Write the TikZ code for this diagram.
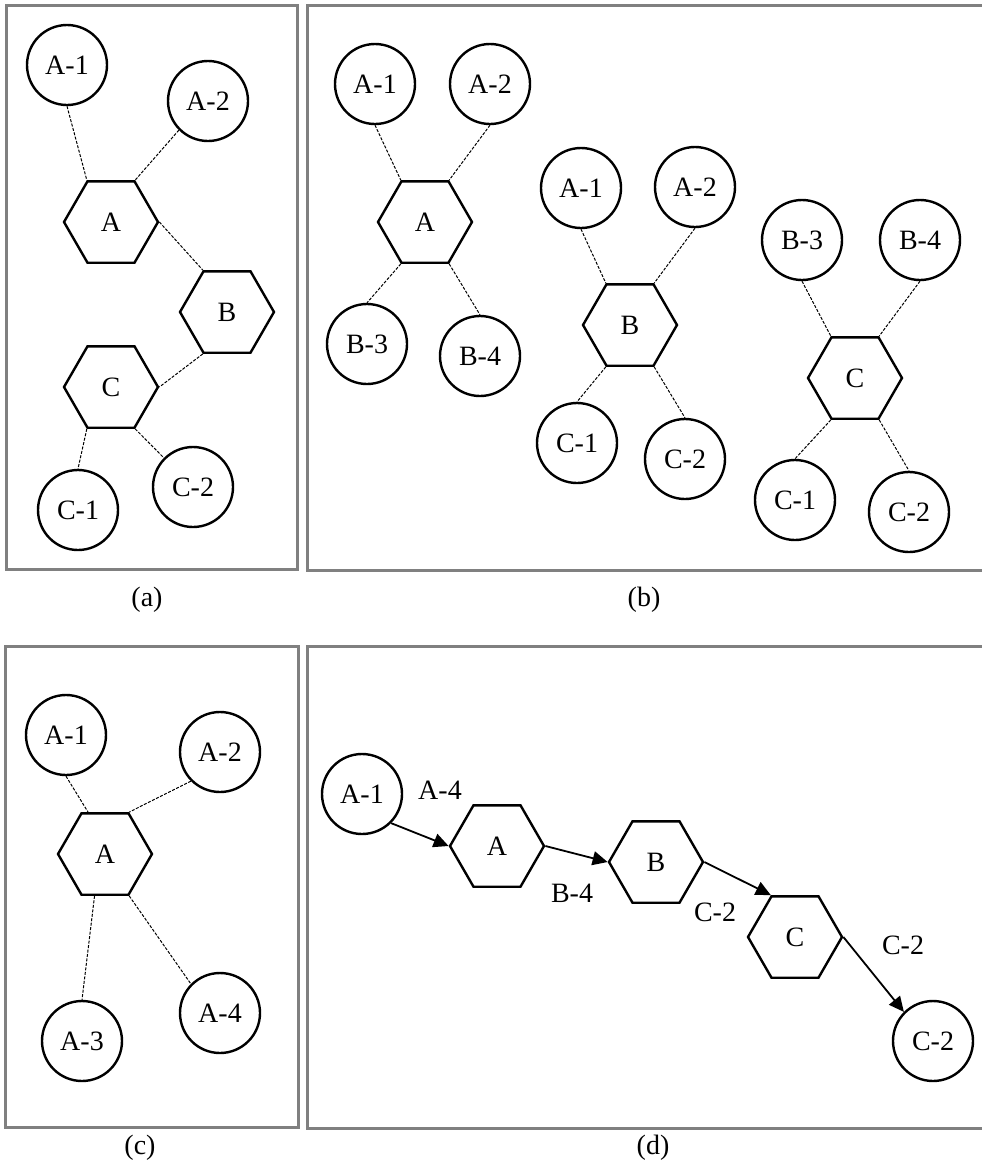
\documentclass[tikz,border=0pt]{standalone}
\usepackage{fontspec}
\setmainfont{Liberation Serif}
\usepackage{tikz}
\usetikzlibrary{shapes.geometric,arrows.meta}

\begin{document}
\begin{tikzpicture}[x=1pt,y=-1pt,
  font=\fontsize{28}{33}\selectfont,
  hexnode/.style={draw,line width=2.4pt,regular polygon,regular polygon sides=6,minimum size=94pt,inner sep=0pt},
  circnode/.style={draw,circle,line width=2.4pt,minimum size=80pt,inner sep=0pt},
  link/.style={dash pattern=on 3pt off 1.5pt,line width=1pt},
  flow/.style={line width=1.8pt,-{Triangle[length=15pt,width=14pt]}},
  panel/.style={draw=gray,line width=3pt}]
\useasboundingbox (0,0) rectangle (982,1165);

% Panel frames
\draw[panel] (6,5) rectangle (297,569);
\draw[panel] (992,5) -- (307,5) -- (307,570) -- (992,570);
\draw[panel] (5,646) rectangle (298,1127);
\draw[panel] (992,646) -- (307,646) -- (307,1128) -- (992,1128);

% (a) chain A - B - C
\node[circnode] (a1) at (67,65) {A-1};
\node[circnode] (a2) at (208,101) {A-2};
\node[hexnode] (ahA) at (111,222) {A};
\node[hexnode] (ahB) at (227,312) {B};
\node[hexnode] (ahC) at (111,387) {C};
\node[circnode] (ac1) at (78,510) {C-1};
\node[circnode] (ac2) at (193,487) {C-2};
\draw[link] (a1.south) -- (ahA.120);
\draw[link] (a2.south west) -- (ahA.60);
\draw[link] (ahA.0) -- (ahB.120);
\draw[link] (ahB.240) -- (ahC.0);
\draw[link] (ahC.240) -- (ac1.north);
\draw[link] (ahC.300) -- (ac2.north west);
\node (capa) at (147,600) {(a)};

% (b) three separate hubs
\node[circnode] (b1) at (375,84) {A-1};
\node[circnode] (b2) at (490,84) {A-2};
\node[hexnode] (bhA) at (425,222) {A};
\node[circnode] (b3) at (367,344) {B-3};
\node[circnode] (b4) at (480,356) {B-4};
\draw[link] (b1.south) -- (bhA.120);
\draw[link] (b2.south) -- (bhA.60);
\draw[link] (bhA.240) -- (b3.north);
\draw[link] (bhA.300) -- (b4.north);

\node[circnode] (b5) at (581,188) {A-1};
\node[circnode] (b6) at (695,187) {A-2};
\node[hexnode] (bhB) at (630,325) {B};
\node[circnode] (b7) at (577,443) {C-1};
\node[circnode] (b8) at (685,459) {C-2};
\draw[link] (b5.south) -- (bhB.120);
\draw[link] (b6.south) -- (bhB.60);
\draw[link] (bhB.240) -- (b7.north);
\draw[link] (bhB.300) -- (b8.north);

\node[circnode] (b9) at (802,240) {B-3};
\node[circnode] (b10) at (920,240) {B-4};
\node[hexnode] (bhC) at (855,378) {C};
\node[circnode] (b11) at (795,500) {C-1};
\node[circnode] (b12) at (909,512) {C-2};
\draw[link] (b9.south) -- (bhC.120);
\draw[link] (b10.south) -- (bhC.60);
\draw[link] (bhC.240) -- (b11.north);
\draw[link] (bhC.300) -- (b12.north);
\node (capb) at (644,600) {(b)};

% (c) single hub
\node[circnode] (c1) at (66,735) {A-1};
\node[circnode] (c2) at (220,752) {A-2};
\node[hexnode] (chA) at (105,854) {A};
\node[circnode] (c3) at (82,1041) {A-3};
\node[circnode] (c4) at (220,1013) {A-4};
\draw[link] (c1.south) -- (chA.112);
\draw[link] (c2.south west) -- (chA.60);
\draw[link] (chA.256) -- (c3.north);
\draw[link] (chA.300) -- (c4.north west);
\node (capc) at (140,1148) {(c)};

% (d) directed path
\node[circnode] (d1) at (362,794) {A-1};
\node[hexnode] (dhA) at (497,846) {A};
\node[hexnode] (dhB) at (656,862) {B};
\node[hexnode] (dhC) at (795,937) {C};
\node[circnode] (d2) at (933,1041) {C-2};
\node (t1) at (440,790) {A-4};
\node (t2) at (572,893) {B-4};
\node (t3) at (715,912) {C-2};
\node (t4) at (903,945) {C-2};
\draw[flow] (d1.south east) -- (dhA.180);
\draw[flow] (dhA.0) -- (dhB.180);
\draw[flow] (dhB.0) -- (dhC.120);
\draw[flow] (dhC.0) -- (d2.north west);
\node (capd) at (653,1148) {(d)};
\end{tikzpicture}
\end{document}
